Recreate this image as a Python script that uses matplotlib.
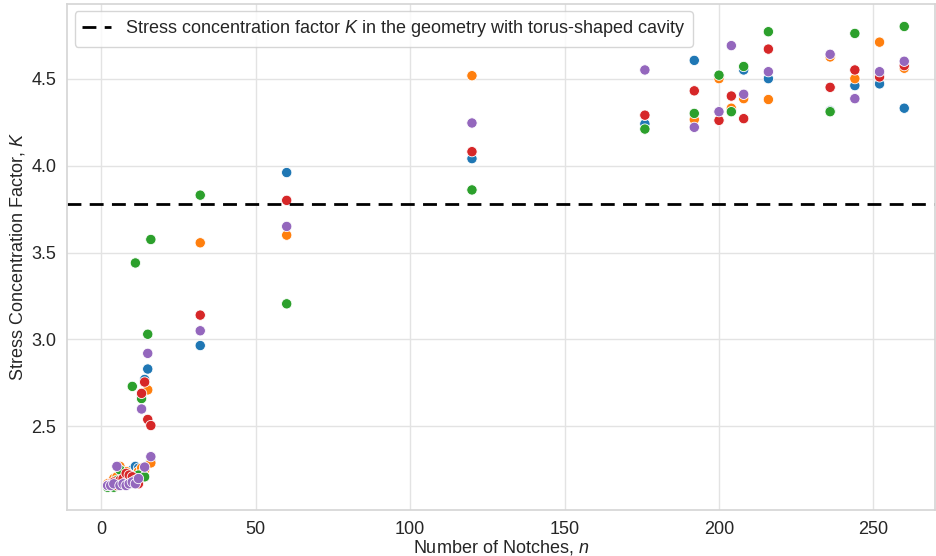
import numpy as np
import pandas as pd
import matplotlib
matplotlib.use("Agg")
import matplotlib.pyplot as plt
import seaborn as sns

# notch counts
n_small = [2, 3, 4, 5, 6, 7, 8, 9, 10, 11, 12, 13, 14, 15, 16]
n_large = [32, 60, 120, 176, 192, 200, 204, 208, 216, 236, 244, 252, 260]

# stress concentration factor per series
k_blue = [2.16, 2.17, 2.19, 2.18, 2.22, 2.21, 2.20, 2.23, 2.25, 2.27, 2.26, 2.24, 2.77, 2.83, 2.30,
          2.965, 3.96, 4.04, 4.24, 4.605, 4.51, 4.32, 4.55, 4.50, 4.315, 4.46, 4.47, 4.33]
k_orange = [2.17, 2.16, 2.20, 2.21, 2.27, 2.23, 2.24, 2.22, 2.19, 2.21, 2.24, 2.26, 2.25, 2.71, 2.29,
            3.556, 3.60, 4.517, 4.29, 4.265, 4.50, 4.33, 4.385, 4.38, 4.625, 4.50, 4.71, 4.56]
k_green = [2.15, 2.16, 2.15, 2.19, 2.25, 2.17, 2.18, 2.20, 2.73, 3.44, 2.22, 2.66, 2.21, 3.03, 3.575,
           3.83, 3.205, 3.86, 4.21, 4.30, 4.52, 4.31, 4.57, 4.77, 4.31, 4.76, 4.53, 4.80]
k_red = [2.16, 2.17, 2.18, 2.16, 2.19, 2.20, 2.23, 2.22, 2.21, 2.19, 2.17, 2.69, 2.755, 2.54, 2.505,
         3.14, 3.80, 4.08, 4.29, 4.43, 4.26, 4.40, 4.27, 4.67, 4.45, 4.55, 4.51, 4.575]
k_purple = [2.16, 2.16, 2.17, 2.27, 2.16, 2.17, 2.16, 2.17, 2.18, 2.17, 2.20, 2.60, 2.266, 2.92, 2.326,
            3.05, 3.65, 4.245, 4.55, 4.22, 4.31, 4.69, 4.41, 4.54, 4.64, 4.385, 4.54, 4.60]

k_torus = 3.78

series = {"A": k_blue, "B": k_orange, "C": k_green, "D": k_red, "E": k_purple}
n_all = n_small + n_large
rows = []
for name, vals in series.items():
    for n, k in zip(n_all, vals):
        rows.append((name, n, k))
df = pd.DataFrame(rows, columns=["series", "n", "K"])

sns.set_theme(style="whitegrid", rc={"grid.color": "#e3e3e3", "axes.edgecolor": "#d6d6d6"})
plt.rcParams["font.family"] = ["Liberation Sans", "DejaVu Sans"]
plt.rcParams["mathtext.fontset"] = "custom"
plt.rcParams["mathtext.it"] = "Liberation Sans:italic"

fig, ax = plt.subplots(figsize=(9.37, 5.56), dpi=100)
fig.subplots_adjust(left=0.072, right=0.998, top=0.993, bottom=0.083)

sns.scatterplot(data=df, x="n", y="K", hue="series", palette="tab10", s=55,
                legend=False, ax=ax)
ax.axhline(k_torus, color="black", linestyle="--", linewidth=2, dashes=(5, 3),
           label="Stress concentration factor $K$ in the geometry with torus-shaped cavity")

ax.set_xlim(-11, 270)
ax.set_ylim(2.02, 4.93)
ax.set_xticks([0, 50, 100, 150, 200, 250])
ax.set_yticks([2.5, 3.0, 3.5, 4.0, 4.5])
ax.tick_params(labelsize=13, pad=2)
ax.set_xlabel("Number of Notches, $n$", fontsize=13, labelpad=0)
ax.set_ylabel("Stress Concentration Factor, $K$", fontsize=13, labelpad=3)
ax.legend(loc="upper left", fontsize=13, handlelength=1.6, borderaxespad=0.4)

fig.savefig("out.png", dpi=100)
